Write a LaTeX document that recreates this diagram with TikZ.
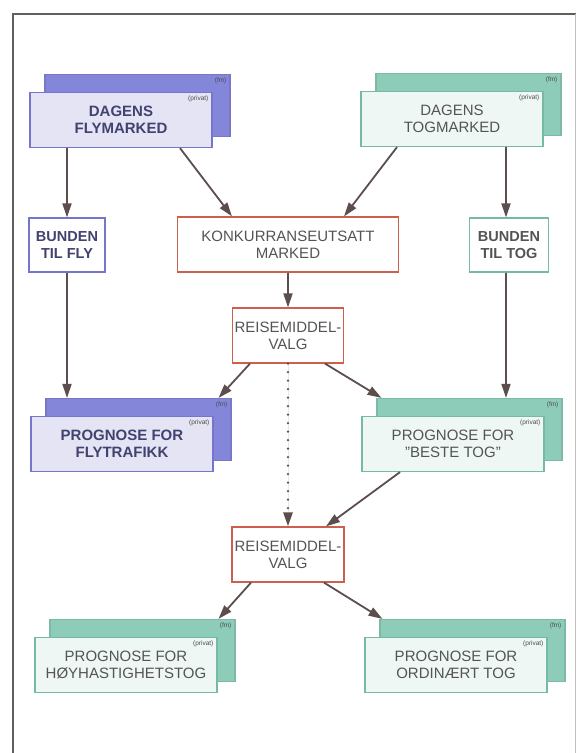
\documentclass[tikz,border=0pt]{standalone}
\usepackage{fontspec}
\setmainfont{Liberation Sans}
\usetikzlibrary{arrows.meta,calc}
\definecolor{flyback}{RGB}{132,134,218}
\definecolor{flyfront}{RGB}{228,228,245}
\definecolor{flyline}{RGB}{116,118,204}
\definecolor{flytext}{RGB}{66,66,112}
\definecolor{togback}{RGB}{142,204,186}
\definecolor{togfront}{RGB}{238,247,243}
\definecolor{togline}{RGB}{118,186,166}
\definecolor{togtext}{RGB}{84,84,84}
\definecolor{valgline}{RGB}{204,96,80}
\definecolor{arrowcol}{RGB}{92,78,76}
\definecolor{framecol}{RGB}{96,96,90}
\tikzset{
  box/.style={rectangle,draw,line width=1.2pt,inner sep=2pt,align=center,
              font=\fontsize{15}{17}\selectfont},
  flyB/.style={box,fill=flyback,draw=flyback!90!black,minimum width=185pt,minimum height=62pt},
  flyF/.style={box,fill=flyfront,draw=flyline,text=flytext,minimum width=182pt,minimum height=55pt,
               font=\bfseries\fontsize{15}{17}\selectfont},
  togB/.style={box,fill=togback,draw=togback!90!black,minimum width=185pt,minimum height=62pt},
  togF/.style={box,fill=togfront,draw=togline,text=togtext,minimum width=182pt,minimum height=55pt},
  bound/.style={box,fill=white,minimum height=54pt,font=\bfseries\fontsize{14.5}{17}\selectfont},
  valg/.style={box,fill=white,draw=valgline,text=togtext,minimum height=55pt},
  tag/.style={font=\fontsize{6.5}{7}\selectfont,inner sep=1pt,anchor=north east,text=black!70},
  arr/.style={-{Triangle[length=14pt,width=9pt]},line width=1.8pt,draw=arrowcol,fill=arrowcol},
  dotarr/.style={arr,dash pattern=on 0pt off 8.5pt,line cap=round,line width=2.6pt},
}
\begin{document}
\begin{tikzpicture}[x=1pt,y=-1pt]
  \useasboundingbox[fill=white] (0,0) rectangle (578,753);
  % frame
  \draw[framecol,line width=2pt] (13,753) -- (13,14) -- (576,14);
  \draw[framecol!40,line width=0.8pt] (575,14) -- (575,753);

  % today's markets
  \node[flyB] (flymB) at (137.5,105.5) {};
  \node[flyF] (flym) at (121,120) {DAGENS\\FLYMARKED};
  \node[togB] (togmB) at (468.5,104.5) {};
  \node[togF] (togm) at (452,119) {DAGENS\\TOGMARKED};

  % bound travellers and competition
  \node[bound,draw=flyline,text=flytext,minimum width=76pt] (bfly) at (67,245) {BUNDEN\\TIL FLY};
  \node[valg,minimum width=221pt] (konk) at (288,244.5) {KONKURRANSEUTSATT\\MARKED};
  \node[bound,draw=togline,text=togtext,minimum width=79pt] (btog) at (509,245) {BUNDEN\\TIL TOG};
  \node[valg,minimum width=110pt] (valg1) at (288,335.5) {REISEMIDDEL-\\VALG};

  % forecasts
  \node[flyB] (pflyB) at (138.5,429.5) {};
  \node[flyF] (pfly) at (122,444) {PROGNOSE FOR\\FLYTRAFIKK};
  \node[togB] (ptogB) at (469.5,429.5) {};
  \node[togF] (ptog) at (453,444) {PROGNOSE FOR\\"BESTE TOG"};
  \node[valg,minimum width=112pt] (valg2) at (288,554.5) {REISEMIDDEL-\\VALG};
  \node[togB] (phoyB) at (142.5,650.5) {};
  \node[togF] (phoy) at (126,665) {PROGNOSE FOR\\HØYHASTIGHETSTOG};
  \node[togB] (pordB) at (472.5,650.5) {};
  \node[togF] (pord) at (456,665) {PROGNOSE FOR\\ORDINÆRT TOG};

  % tags
  \foreach \b/\f in {flymB/flym,togmB/togm,pflyB/pfly,ptogB/ptog,phoyB/phoy,pordB/pord}{
    \node[tag] at ($(\b.north east)+(-3,3)$) {(fm)};
    \node[tag] at ($(\f.north east)+(-3,3)$) {(privat)};
  }

  % connectors
  \draw[arr] (bfly |- flym.south) -- (bfly.north);
  \draw[arr] ($(flym.south)+(59,0)$) -- ($(konk.north)+(-56,0)$);
  \draw[arr] ($(togm.south)+(-55,0)$) -- ($(konk.north)+(56,0)$);
  \draw[arr] (506,0 |- togm.south) -- (506,0 |- btog.north);
  \draw[arr] (bfly.south) -- (bfly.south |- pflyB.north);
  \draw[arr] (konk.south) -- (valg1.north);
  \draw[arr] ($(valg1.south)+(-38,0)$) -- ($(pflyB.north)+(80,0)$);
  \draw[arr] ($(valg1.south)+(37,0)$) -- ($(ptogB.north)+(-88,0)$);
  \draw[arr] (506,0 |- btog.south) -- (506,0 |- ptogB.north);
  \draw[dotarr] (valg1.south) -- (valg2.north);
  \draw[arr] ($(ptog.south)+(-53,0)$) -- ($(valg2.north)+(38,0)$);
  \draw[arr] ($(valg2.south)+(-37,0)$) -- ($(phoyB.north)+(76,0)$);
  \draw[arr] ($(valg2.south)+(36,0)$) -- ($(pordB.north)+(-90,0)$);
\end{tikzpicture}
\end{document}
